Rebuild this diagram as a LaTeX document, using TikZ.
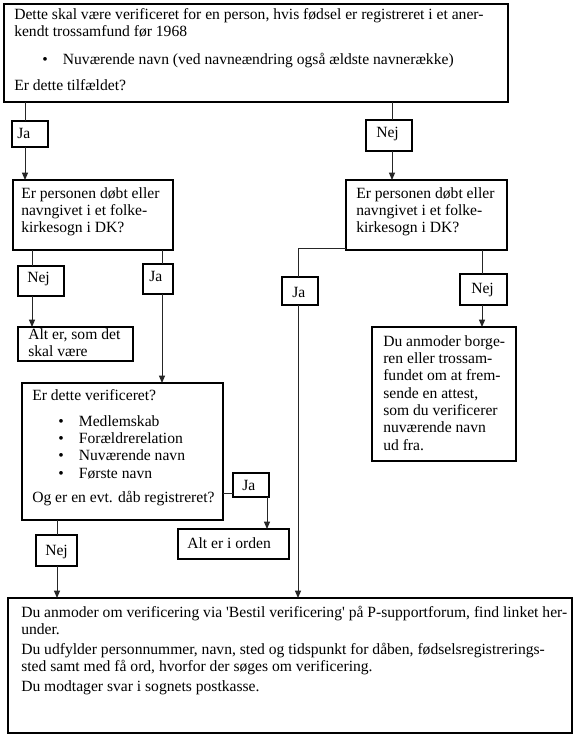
\documentclass[tikz,border=0pt]{standalone}
\usepackage{fontspec}
\setmainfont{Liberation Serif}
\usetikzlibrary{arrows.meta}
\newcommand\mystrut{\rule{0pt}{9pt}}
\newcommand\mybul[1]{\hspace*{#1}\makebox[15.5pt][l]{•}}
\begin{document}
\begin{tikzpicture}[x=0.75pt,y=-0.75pt,
  bx/.style 2 args={draw=black, line width=0.9pt, inner sep=0pt, outer sep=0pt, anchor=north west,
    minimum width=#1*0.75pt, minimum height=#2*0.75pt},
  txt/.style={anchor=north west, inner sep=0pt, align=left, font=\fontsize{11.7pt}{13pt}\selectfont},
  conn/.style={draw=black!85, line width=0.75pt},
  arr/.style={conn, -{Triangle[length=5.5pt,width=4.5pt]}}]
\useasboundingbox (0,0) rectangle (581,739);
\fill[white] (0,0) rectangle (581,739);
% boxes
\node[bx={504}{98}]  (B1)  at (4,4) {};
\node[bx={36}{26}]   (B2)  at (12,121) {};
\node[bx={160}{70}]  (B3)  at (13,180) {};
\node[bx={46}{30}]   (B4)  at (18,266) {};
\node[bx={115}{34}]  (B5)  at (18,327) {};
\node[bx={30}{30}]   (B6)  at (143,264) {};
\node[bx={201}{137}] (B7)  at (22,383) {};
\node[bx={36}{24}]   (B8)  at (233,473) {};
\node[bx={111}{30}]  (B9)  at (178,529) {};
\node[bx={41}{31}]   (B10) at (36,535) {};
\node[bx={564}{135}] (B11) at (8,598) {};
\node[bx={46}{31}]   (B12) at (366,120) {};
\node[bx={161}{70}]  (B13) at (346,180) {};
\node[bx={36}{28}]   (B14) at (282,277) {};
\node[bx={47}{31}]   (B15) at (460,274) {};
\node[bx={144}{134}] (B16) at (372,327) {};
% texts
\node[txt] (T1) at (14,7) {\mystrut Dette skal være verificeret for en person, hvis fødsel er registreret i et aner-\\
kendt trossamfund før 1968\\[8pt]
\mybul{21pt}Nuværende navn (ved navneændring også ældste navnerække)\\[6.5pt]
Er dette tilfældet?};
\node[txt] (T2) at (17,126) {\mystrut Ja};
\node[txt] (T3) at (21,186) {\mystrut Er personen døbt eller\\navngivet i et folke-\\kirkesogn i DK?};
\node[txt] (T4) at (27,270) {\mystrut Nej};
\node[txt] (T5) at (28,327) {\mystrut Alt er, som det\\skal være};
\node[txt] (T6) at (149,269) {\mystrut Ja};
\node[txt] (T7) at (32,388) {\mystrut Er dette verificeret?\\[6.5pt]
\mybul{19.5pt}Medlemskab\\
\mybul{19.5pt}Forældrerelation\\
\mybul{19.5pt}Nuværende navn\\
\mybul{19.5pt}Første navn\\[5pt]
Og er en evt. dåb registreret?};
\node[txt] (T8) at (242,478) {\mystrut Ja};
\node[txt] (T9) at (187,536) {\mystrut Alt er i orden};
\node[txt] (T10) at (45,543) {\mystrut Nej};
\node[txt] (T11) at (21,605) {\mystrut Du anmoder om verificering via \textquotesingle Bestil verificering\textquotesingle\ på P-supportforum, find linket her-\\
under.\\[2pt]
Du udfylder personnummer, navn, sted og tidspunkt for dåben, fødselsregistrerings-\\
sted samt med få ord, hvorfor der søges om verificering.\\[2pt]
Du modtager svar i sognets postkasse.};
\node[txt] (T12) at (376,125) {\mystrut Nej};
\node[txt] (T13) at (356,186) {\mystrut Er personen døbt eller\\navngivet i et folke-\\kirkesogn i DK?};
\node[txt] (T14) at (292,285) {\mystrut Ja};
\node[txt] (T15) at (471,281) {\mystrut Nej};
\node[txt] (T16) at (383,334) {\mystrut Du anmoder borge-\\ren eller trossam-\\fundet om at frem-\\sende en attest,\\som du verificerer\\nuværende navn\\ud fra.};
% connector guide coordinates
\coordinate (xa) at (25,0);
\coordinate (xb) at (32,0);
\coordinate (xc) at (162,0);
\coordinate (xd) at (267,0);
\coordinate (xe) at (57,0);
\coordinate (xf) at (392,0);
\coordinate (xg) at (298,0);
\coordinate (xh) at (482,0);
\coordinate (ya) at (0,493);
\coordinate (yb) at (0,248);
% connectors
\draw[conn] (B1.south -| xa) -- (B2.north -| xa);
\draw[arr]  (B2.south -| xa) -- (B3.north -| xa);
\draw[conn] (B3.south -| xb) -- (B4.north -| xb);
\draw[arr]  (B4.south -| xb) -- (B5.north -| xb);
\draw[conn] (B3.south -| xc) -- (B6.north -| xc);
\draw[arr]  (B6.south -| xc) -- (B7.north -| xc);
\draw[conn] (B7.east |- ya) -- (B8.west |- ya);
\draw[arr]  (B8.south -| xd) -- (B9.north -| xd);
\draw[conn] (B7.south -| xe) -- (B10.north -| xe);
\draw[arr]  (B10.south -| xe) -- (B11.north -| xe);
\draw[conn] (B1.south -| xf) -- (B12.north -| xf);
\draw[arr]  (B12.south -| xf) -- (B13.north -| xf);
\draw[conn] (B13.west |- yb) -| (B14.north -| xg);
\draw[arr]  (B14.south -| xg) -- (B11.north -| xg);
\draw[conn] (B13.south -| xh) -- (B15.north -| xh);
\draw[arr]  (B15.south -| xh) -- (B16.north -| xh);
\end{tikzpicture}
\end{document}
